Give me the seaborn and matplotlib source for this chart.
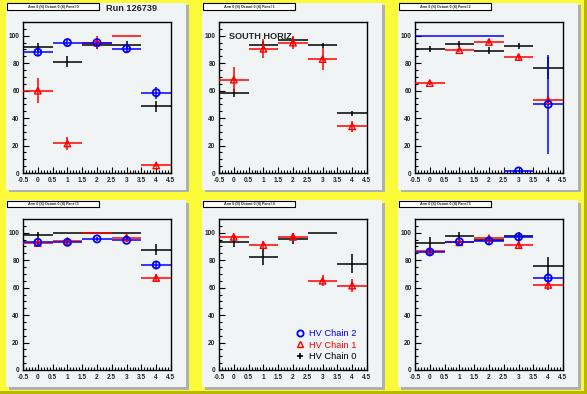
import numpy as np
import pandas as pd
import matplotlib
matplotlib.use("Agg")
import matplotlib.pyplot as plt
from matplotlib.patches import Rectangle
from matplotlib.lines import Line2D
from matplotlib.ticker import MultipleLocator, FormatStrFormatter
import seaborn as sns

# bin centres (HV channel index)
bins = [0, 1, 2, 3, 4]
panel_titles = ["Arm 0 (S) Octant 0 (4) Panel %d" % i for i in range(6)]
chain_names = ["HV Chain 0", "HV Chain 1", "HV Chain 2"]

# efficiencies per panel (None = chain not shown)
chain0_val = [[92, 81, 93, 93, 48.5],
              [58.5, 93.5, 97, 93, 43.5],
              [90.5, 94, 89, 92.5, 76.5],
              [98, 100, 100, 100, 87.5],
              [93.5, 82.5, 95.5, 100, 77.5],
              [92.5, 97.5, 95, 97.5, 76]]
chain0_err = [[3, 4, 3, 3, 4],
              [3, 3, 2, 2, 2],
              [2, 2, 2.5, 2, 8],
              [2.5, 0, 0, 0, 4],
              [4, 6, 4, 0, 7],
              [4.5, 3, 2, 3, 6]]
chain1_val = [[60, 21.5, 95, 100, 5.5],
              [68, 90.5, 95, 83, 34],
              [65.5, 89.5, 95.5, 84.5, 53],
              [92.5, 94, 100, 96.5, 67],
              [97, 91, 97, 65, 61.5],
              [87, 93, 96, 91, 62]]
chain1_err = [[9, 5, 5, 0, 1],
              [9, 7, 5, 8, 4],
              [1.5, 1.5, 1.5, 2, 3],
              [2.5, 2, 0, 2, 3],
              [2, 3, 2, 4, 4.5],
              [2, 2, 2, 3, 3.5]]
chain2_val = [[88, 95, 95, 90.5, 58.5],
              None,
              [100, 100, 100, 1.5, 50],
              [93, 93, 95.5, 94.5, 76.5],
              None,
              [86, 93.5, 94, 97, 67]]
chain2_err = [[3, 2, 2, 2.5, 4.5],
              None,
              [0, 0, 0, 1, 36],
              [2, 2, 1.5, 1.5, 3],
              None,
              [3, 2, 2, 2, 4]]

rows = []
for p in range(6):
    for ch, (vals, errs) in enumerate([(chain0_val[p], chain0_err[p]),
                                       (chain1_val[p], chain1_err[p]),
                                       (chain2_val[p], chain2_err[p])]):
        if vals is None:
            continue
        for x, v, e in zip(bins, vals, errs):
            rows.append(dict(panel=p, chain=ch, x=x, y=v, err=e))
df = pd.DataFrame(rows)

colors = {0: "black", 1: "#ff0000", 2: "#0000ff"}
markers = {0: "+", 1: "^", 2: "o"}
draw_order = [0, 2, 1]

sns.set_theme(style="ticks")
plt.rcParams["font.family"] = ["Liberation Sans", "DejaVu Sans"]

W, H = 587, 394
fig = plt.figure(figsize=(W / 100, H / 100), dpi=100)
fig.patch.set_facecolor("#fafa38")


def frac_rect(x0, y0, w, h):
    return (x0 / W, 1 - (y0 + h) / H, w / W, h / H)


# canvas bevel
fig.add_artist(Rectangle((0, 0), 1, 3 / H, transform=fig.transFigure,
                         facecolor="#b8b800", edgecolor="none", zorder=-3))
fig.add_artist(Rectangle((1 - 3 / W, 0), 3 / W, 1, transform=fig.transFigure,
                         facecolor="#b8b800", edgecolor="none", zorder=-3))

for p in range(6):
    r, c = divmod(p, 3)
    px0, py0 = c * 196 + 6, r * 197 + 3
    # pad + shadow
    x, y, w, h = frac_rect(px0 + 2.5, py0 + 2.5, 180, 187)
    fig.add_artist(Rectangle((x, y), w, h, transform=fig.transFigure,
                             facecolor="#b0b0b0", edgecolor="none", zorder=-2))
    x, y, w, h = frac_rect(px0, py0, 180, 187)
    fig.add_artist(Rectangle((x, y), w, h, transform=fig.transFigure,
                             facecolor="#f0f4f4", edgecolor="none", zorder=-1))
    # small title box
    x, y, w, h = frac_rect(px0 + 1, py0 + 0.5, 92, 6)
    fig.add_artist(Rectangle((x, y), w, h, transform=fig.transFigure,
                             facecolor="white", edgecolor="black", lw=0.8, zorder=2))
    fig.text(x + w / 2, y + h / 2, panel_titles[p], fontsize=2.6, weight="bold",
             ha="center", va="center", zorder=3)

    ax = fig.add_axes(frac_rect(c * 196 + 23, r * 197 + 22, 148, 151))
    ax.set_facecolor("#f0f4f4")
    sub = df[df.panel == p]
    for ch in draw_order:
        d = sub[sub.chain == ch]
        if d.empty:
            continue
        ax.errorbar(d.x, d.y, xerr=0.5, yerr=d.err, fmt="none",
                    ecolor=colors[ch], elinewidth=1.1, capsize=0, zorder=2 + ch)
        pts = d[d.err > 0]
        if ch == 0:
            continue
        sns.scatterplot(data=pts, x="x", y="y", ax=ax, marker=markers[ch],
                        s=26 if ch == 2 else 22, facecolor="none",
                        edgecolor=colors[ch], linewidth=1.3 if ch == 2 else 1.0,
                        zorder=5 + ch, legend=False)
    ax.set_xlim(-0.5, 4.5)
    ax.set_ylim(0, 110)
    ax.set_xlabel("")
    ax.set_ylabel("")
    ax.xaxis.set_major_locator(MultipleLocator(0.5))
    ax.xaxis.set_minor_locator(MultipleLocator(0.1))
    ax.xaxis.set_major_formatter(FormatStrFormatter("%g"))
    ax.yaxis.set_major_locator(MultipleLocator(20))
    ax.yaxis.set_minor_locator(MultipleLocator(5))
    ax.tick_params(which="both", direction="in", top=False, right=False,
                   width=0.8, color="black")
    ax.tick_params(which="major", length=4, labelsize=4.7)
    ax.tick_params(axis="x", which="major", pad=3)
    ax.tick_params(axis="y", which="major", pad=2.5)
    ax.tick_params(which="minor", length=2)
    for lab in ax.get_xticklabels() + ax.get_yticklabels():
        lab.set_fontweight("bold")
    for s in ax.spines.values():
        s.set_color("black")
        s.set_linewidth(1.0)

    if p == 1:
        ax.text(0.065, 0.935, "SOUTH HORIZ", transform=ax.transAxes,
                fontsize=6.6, weight="bold", va="top", ha="left")
    if p == 4:
        handles = [Line2D([], [], ls="none", marker="o", mfc="none", mec=colors[2], mew=1.3, ms=4.5),
                   Line2D([], [], ls="none", marker="^", mfc="none", mec=colors[1], mew=1.0, ms=4.5),
                   Line2D([], [], ls="none", marker="+", color=colors[0], mew=1.2, ms=5)]
        ax.legend(handles, [chain_names[2], chain_names[1], chain_names[0]],
                  labelcolor=[colors[2], colors[1], colors[0]], frameon=False,
                  loc="lower left", bbox_to_anchor=(0.515, 0.06), borderaxespad=0,
                  borderpad=0, handlelength=1.0, handletextpad=0.5,
                  labelspacing=0.25, prop={"size": 6.7})

fig.text(106 / W, 1 - 8.5 / H, "Run 126739", fontsize=6.6, weight="bold",
         ha="left", va="center")

fig.savefig("out.png", dpi=100, facecolor=fig.get_facecolor())
